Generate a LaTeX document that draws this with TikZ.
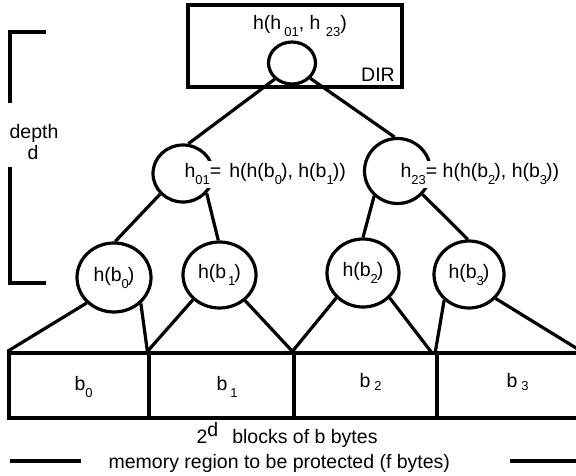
\documentclass[tikz,border=0pt]{standalone}
\usepackage{fontspec}
\setmainfont{Liberation Sans}
\usetikzlibrary{shapes.geometric}
\newcommand\sbs[1]{\raisebox{-7pt}{\fontsize{13}{13}\selectfont #1}}
\newcommand\sbb[1]{\raisebox{-3pt}{\fontsize{13}{13}\selectfont #1}}
\begin{document}
\begin{tikzpicture}[x=1pt,y=-1pt,line width=3.2pt,
  every node/.style={font=\fontsize{19.5}{23}\selectfont, inner sep=0pt},
  hc/.style={draw, ellipse, inner sep=0pt},
  blk/.style={draw, rectangle, minimum height=65pt},
  lbl/.style={anchor=base west},
  eqlbl/.style={anchor=base west, fill=white, inner xsep=1pt, inner ysep=3pt}]
\useasboundingbox (0,0) rectangle (576,476);

% DIR box and root
\node[draw, minimum width=214pt, minimum height=82pt] (dir) at (295,46) {};
\node[anchor=base] (rootlbl) at (300,30) {h(h\kern3pt\sbs{01}, h \sbs{23})};
\node (dirlbl) at (378,75) {DIR};
\node[hc, minimum width=47pt, minimum height=42pt] (root) at (292,63) {};

% level 1
\node[hc, minimum width=60pt, minimum height=57pt] (l) at (183,173.5) {};
\node[hc, minimum width=66pt, minimum height=65pt] (r) at (397.5,171) {};

% level 2
\node[hc, minimum width=74pt, minimum height=69pt] (hb0) at (114,277.5) {h(b\sbs{0}\kern-1pt)};
\node[hc, minimum width=73pt, minimum height=66pt] (hb1) at (219.5,275) {h(b\kern2pt\sbs{1}\kern-1pt)};
\node[hc, minimum width=72pt, minimum height=68pt] (hb2) at (363,273) {h(b\sbs{2}\kern-1pt)};
\node[hc, minimum width=70pt, minimum height=67pt] (hb3) at (469,274.5) {h(b\sbs{3}\kern-1pt)};

% tree connectors
\draw (root.223) -- (l.80);
\draw (root.320) -- (r.95);
\draw (l.222) -- (hb0.88);
\draw (l.320) -- (hb1.92);
\draw (r.227) -- (hb2.90);
\draw (r.317) -- (hb3.92);

% equation labels
\node[eqlbl] (leq) at (182,178) {h\sbs{01}=\hspace{8pt}h(h(b\sbs{0}\kern-1pt), h(b\sbs{1}\kern-1pt))};
\node[eqlbl] (req) at (398,178) {h\sbs{23}= h(h(b\sbs{2}\kern-1pt), h(b\sbs{3}\kern-1pt))};

% blocks
\node[blk, minimum width=140pt] (blk0) at (79,385.5) {};
\node[blk, minimum width=145pt] (blk1) at (221.5,385.5) {};
\node[blk, minimum width=143pt] (blk2) at (365.5,385.5) {};
\node[blk, minimum width=143pt] (blk3) at (508.5,385.5) {};
\coordinate (e2) at (432,353);

\node[lbl] (t0) at (73,390) {b\sbs{0}};
\node[lbl] (t1) at (215,390) {b\kern3pt\sbs{1}};
\node[lbl] (t2) at (358,387) {b\kern4pt\sbb{2}};
\node[lbl] (t3) at (505,387) {b\kern4pt\sbb{3}};

\draw (hb0.223) -- (blk0.north west);
\draw (hb0.316) -- (blk1.north west);
\draw (hb1.223) -- (blk1.north west);
\draw (hb1.315) -- (blk2.north west);
\draw (hb2.223) -- (blk2.north west);
\draw (hb2.317) -- (e2);
\draw (hb3.226) -- (blk3.north west);
\draw (hb3.318) -- (blk3.north east);

% depth bracket
\draw (46,32) -- (10,32) -- (10,103);
\draw (10,167) -- (10,283) -- (46,283);
\node[anchor=base] (depth) at (34,139) {depth};
\node[anchor=base] (dd) at (33,160) {d};

% bottom texts
\node[lbl] (blocks) at (195,443) {2\raisebox{7pt}{d}\hspace{14pt}blocks of b bytes};
\node[lbl] (mem) at (107,468) {memory region to be protected (f bytes)};
\draw (10,461) -- (81,461);
\draw (510,461) -- (580,461);
\end{tikzpicture}
\end{document}
